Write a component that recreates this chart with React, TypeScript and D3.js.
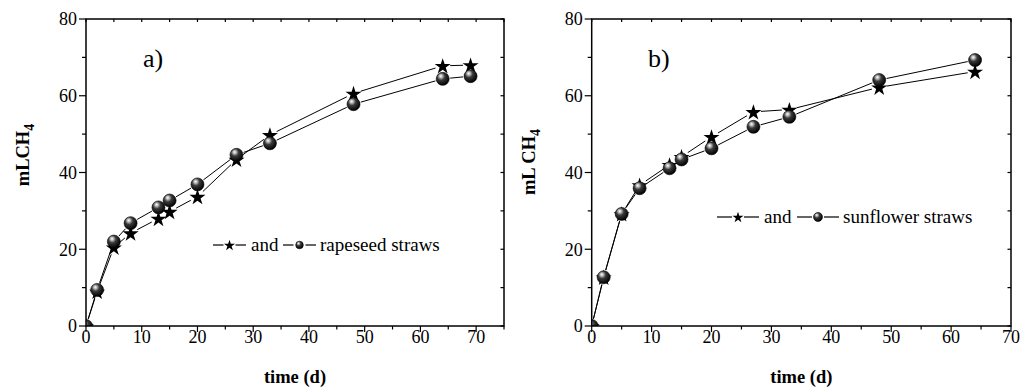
import React from 'react';
import * as d3 from 'd3';

// panel a) rapeseed straws
const daysA = [0, 2, 5, 8, 13, 15, 20, 27, 33, 48, 64, 69];
const starA = [0, 9, 20.5, 24.2, 28, 29.8, 33.7, 43.4, 49.8, 60.6, 67.8, 68];
const ballA = [0, 9.4, 22, 26.8, 30.9, 32.7, 36.9, 44.6, 47.6, 57.8, 64.4, 65.1];

// panel b) sunflower straws
const daysB = [0, 2, 5, 8, 13, 15, 20, 27, 33, 48, 64];
const starB = [0, 12.7, 29.2, 36.7, 42, 44.1, 49.3, 55.8, 56.4, 62.2, 66.3];
const ballB = [0, 12.7, 29.2, 35.9, 41.1, 43.4, 46.3, 51.9, 54.5, 64.1, 69.3];

const yMajor = [0, 20, 40, 60, 80];
const yMinor = [10, 30, 50, 70];

const FONT = "'Liberation Serif', 'Times New Roman', serif";
const W = 1023;
const H = 387;
const TOP = 19;
const BOTTOM = 326;
const R = 6.5;

const starPath = d3.symbol(d3.symbolStar).size(80)();
const starSmall = d3.symbol(d3.symbolStar).size(38)();

type Pt = [number, number];

// lines stop short of each marker, like the original
const gapSegments = (pts: Pt[], gap: number) => {
    const segs: [Pt, Pt][] = [];
    for (let i = 1; i < pts.length; i++) {
        const [x0, y0] = pts[i - 1];
        const [x1, y1] = pts[i];
        const len = Math.hypot(x1 - x0, y1 - y0);
        if (len <= gap * 2) continue;
        const ux = (x1 - x0) / len, uy = (y1 - y0) / len;
        segs.push([[x0 + ux * gap, y0 + uy * gap], [x1 - ux * gap, y1 - uy * gap]]);
    }
    return segs;
};

const Ball = ({ x, y, r, grad }: { x: number; y: number; r: number; grad: string }) => (
    <circle cx={x} cy={y} r={r} fill={`url(#${grad})`} stroke="#000" strokeWidth={0.6} />
);

const Panel = ({ id, days, star, ball, xMax, left, right, tag, tagX, yTitle, yTitleX, yTitleY, legend }: any) => {
    const x = d3.scaleLinear().domain([0, xMax]).range([left, right]);
    const y = d3.scaleLinear().domain([0, 80]).range([BOTTOM, TOP]);
    const xMajor = d3.range(0, 71, 10);
    const xMinor = d3.range(5, xMax + 0.1, 10);
    const xTop = d3.range(0, xMax + 0.1, 5);
    const yRight = d3.range(0, 81, 10);

    const starPts: Pt[] = days.map((d: number, i: number) => [x(d), y(star[i])]);
    const ballPts: Pt[] = days.map((d: number, i: number) => [x(d), y(ball[i])]);
    const clip = `clip-${id}`;
    const grad = `grad-${id}`;

    return (
        <g style={{ fontFamily: FONT }}>
            <defs>
                <clipPath id={clip}>
                    <rect x={left} y={TOP} width={right - left} height={BOTTOM - TOP} />
                </clipPath>
                <radialGradient id={grad} cx="40%" cy="35%" r="65%" fx="35%" fy="28%">
                    <stop offset="0%" stopColor="#ffffff" />
                    <stop offset="18%" stopColor="#bdbdbd" />
                    <stop offset="45%" stopColor="#3a3a3a" />
                    <stop offset="100%" stopColor="#000000" />
                </radialGradient>
            </defs>

            {/* lines */}
            {[starPts, ballPts].map((pts, k) =>
                gapSegments(pts, R + 1).map((s, i) => (
                    <line key={`${k}-${i}`} x1={s[0][0]} y1={s[0][1]} x2={s[1][0]} y2={s[1][1]}
                        stroke="#000" strokeWidth={1} />
                ))
            )}

            {/* markers */}
            <g clipPath={`url(#${clip})`}>
                {starPts.map((p, i) => (
                    <path key={`s${i}`} d={starPath!} transform={`translate(${p[0]},${p[1] + 0.8})`} fill="#000" />
                ))}
                {ballPts.map((p, i) => (
                    <Ball key={`b${i}`} x={p[0]} y={p[1]} r={R} grad={grad} />
                ))}
            </g>

            {/* frame */}
            <rect x={left} y={TOP} width={right - left} height={BOTTOM - TOP} fill="none" stroke="#000" strokeWidth={1.5} />

            {/* bottom axis */}
            {xMajor.map(t => (
                <g key={`xm${t}`}>
                    <line x1={x(t)} x2={x(t)} y1={BOTTOM} y2={BOTTOM + 6} stroke="#000" strokeWidth={1.2} />
                    <text x={x(t)} y={BOTTOM + 17} fontSize={18} textAnchor="middle">{t}</text>
                </g>
            ))}
            {xMinor.map(t => (
                <line key={`xn${t}`} x1={x(t)} x2={x(t)} y1={BOTTOM} y2={BOTTOM + 3.5} stroke="#000" strokeWidth={1.2} />
            ))}
            {xTop.map(t => (
                <line key={`xt${t}`} x1={x(t)} x2={x(t)} y1={TOP} y2={TOP + 3} stroke="#000" strokeWidth={1.2} />
            ))}

            {/* left axis */}
            {yMajor.map(t => (
                <g key={`ym${t}`}>
                    <line x1={left - 7} x2={left} y1={y(t)} y2={y(t)} stroke="#000" strokeWidth={1.2} />
                    <text x={left - 9} y={y(t)} dy="0.35em" fontSize={18} textAnchor="end">{t}</text>
                </g>
            ))}
            {yMinor.map(t => (
                <line key={`yn${t}`} x1={left - 4} x2={left} y1={y(t)} y2={y(t)} stroke="#000" strokeWidth={1.2} />
            ))}
            {yRight.map(t => (
                <line key={`yr${t}`} x1={right - 3.5} x2={right} y1={y(t)} y2={y(t)} stroke="#000" strokeWidth={1.2} />
            ))}

            {/* titles */}
            <text x={(left + right) / 2} y={383} fontSize={18.5} fontWeight="bold" textAnchor="middle">time (d)</text>
            <text transform={`translate(${yTitleX},${yTitleY}) rotate(-90)`} fontSize={18.5} fontWeight="bold" textAnchor="middle">
                {yTitle}<tspan fontSize={14} dy={5}>4</tspan>
            </text>
            <text x={tagX} y={67} fontSize={26}>{tag}</text>

            {/* legend */}
            <g fontSize={19}>
                <line x1={legend.x} x2={legend.x + legend.seg * 0.5 - 6} y1={legend.y} y2={legend.y} stroke="#000" strokeWidth={1.2} />
                <line x1={legend.x + legend.seg * 0.5 + 6} x2={legend.x + legend.seg} y1={legend.y} y2={legend.y} stroke="#000" strokeWidth={1.2} />
                <path d={starSmall!} transform={`translate(${legend.x + legend.seg * 0.5},${legend.y + 0.5})`} fill="#000" />
                <text x={legend.x + legend.seg + 5} y={legend.y} dy="0.32em">and</text>
                <line x1={legend.x2} x2={legend.x2 + legend.seg * 0.5 - 6} y1={legend.y} y2={legend.y} stroke="#000" strokeWidth={1.2} />
                <line x1={legend.x2 + legend.seg * 0.5 + 6} x2={legend.x2 + legend.seg} y1={legend.y} y2={legend.y} stroke="#000" strokeWidth={1.2} />
                <Ball x={legend.x2 + legend.seg * 0.5} y={legend.y} r={legend.r} grad={grad} />
                <text x={legend.x2 + legend.seg + 4} y={legend.y} dy="0.32em">{legend.label}</text>
            </g>
        </g>
    );
};

const App = () => (
    <svg width={W} height={H} style={{ position: 'absolute', left: 0, top: 0, background: '#fff' }}>
        <Panel id="a" days={daysA} star={starA} ball={ballA} xMax={75} left={86} right={504}
            tag="a)" tagX={143} yTitle="mLCH" yTitleX={29} yTitleY={155}
            legend={{ x: 213, x2: 283, y: 245, seg: 33, r: 3.8, label: 'rapeseed straws' }} />
        <Panel id="b" days={daysB} star={starB} ball={ballB} xMax={70} left={591.7} right={1011}
            tag="b)" tagX={648} yTitle="mL CH" yTitleX={535} yTitleY={162}
            legend={{ x: 717, x2: 797, y: 217, seg: 42, r: 4.5, label: 'sunflower straws' }} />
    </svg>
);

export default App;
